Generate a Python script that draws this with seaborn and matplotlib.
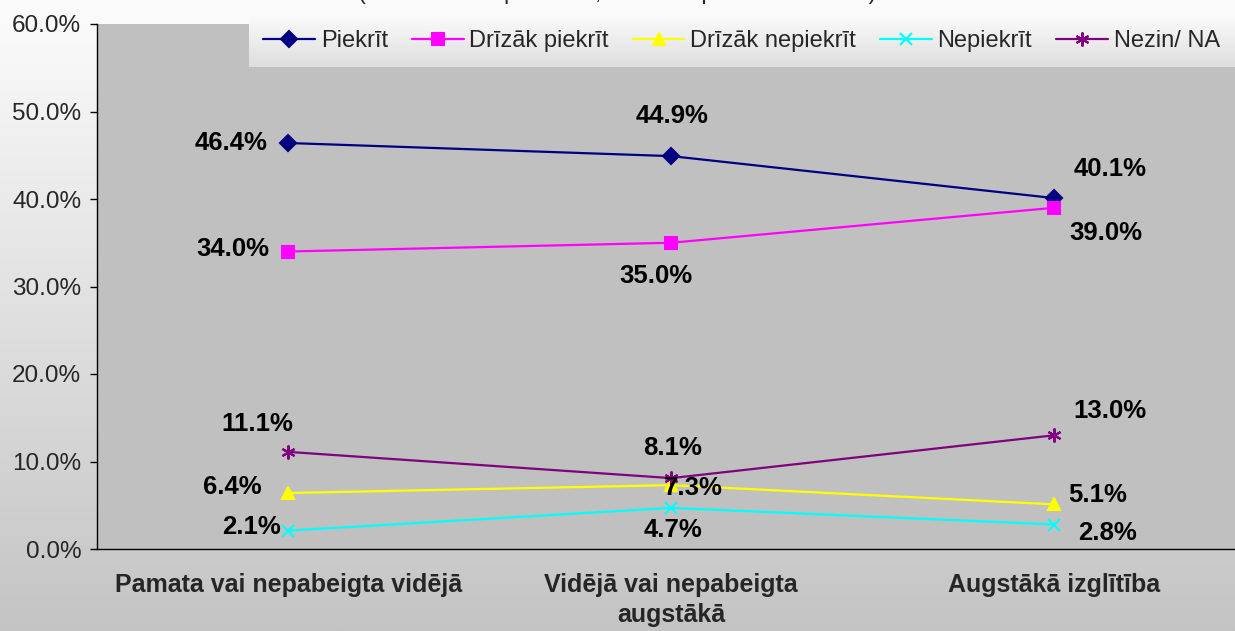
import matplotlib
matplotlib.use("Agg")
import matplotlib.pyplot as plt
import seaborn as sns
import numpy as np

# data
categories = ["Pamata vai nepabeigta vidējā", "Vidējā vai nepabeigta\naugstākā", "Augstākā izglītība"]
series_names = ["Piekrīt", "Drīzāk piekrīt", "Drīzāk nepiekrīt", "Nepiekrīt", "Nezin/ NA"]
piekrit = [46.4, 44.9, 40.1]
drizak_piekrit = [34.0, 35.0, 39.0]
drizak_nepiekrit = [6.4, 7.3, 5.1]
nepiekrit = [2.1, 4.7, 2.8]
nezin = [11.1, 8.1, 13.0]
y_ticks = [0, 10, 20, 30, 40, 50, 60]

values = [piekrit, drizak_piekrit, drizak_nepiekrit, nepiekrit, nezin]
colors = ["#000080", "#FF00FF", "#FFFF00", "#00FFFF", "#800080"]
markers = ["D", "s", "^", "x", (6, 2, 0)]
msizes = [8, 8, 9, 9, 10]

# label offsets in pixels (dx, dy downwards) relative to each point
label_off = [
    [(-57, 0), (1, -40), (56, -29)],
    [(-55, -3), (-15, 33), (51, 25)],
    [(-56, -6), (22, 3), (43, -9)],
    [(-37, -4), (2, 22), (53, 8)],
    [(-31, -28), (1, -30), (56, -24)],
]

sns.set_style("white")
plt.rcParams["font.family"] = ["Liberation Sans", "DejaVu Sans"]

W, H = 1235, 631
fig = plt.figure(figsize=(W / 100, H / 100), dpi=100)

# background gradient for the chart area
bg = fig.add_axes([0, 0, 1, 1], zorder=-10)
grad = np.linspace(252, 196, 256).reshape(-1, 1) / 255
bg.imshow(np.dstack([grad, grad, grad]), aspect="auto", extent=[0, 1, 0, 1])
bg.set_axis_off()

left, right, top, bottom = 96.5, 1246, 24, 549
ax = fig.add_axes([left / W, 1 - bottom / H, (right - left) / W, (bottom - top) / H])
ax.set_facecolor("#C0C0C0")

for name, vals, c, m, ms in zip(series_names, values, colors, markers, msizes):
    sns.lineplot(x=categories, y=vals, ax=ax, color=c, marker=m, markersize=ms,
                 markeredgecolor=c, markerfacecolor=c, markeredgewidth=1.5,
                 linewidth=1.6, label=name, legend=False, sort=False)

for vals, offs in zip(values, label_off):
    for i, (v, (dx, dy)) in enumerate(zip(vals, offs)):
        ax.annotate(f"{v:.1f}%", (i, v), xytext=(dx * 0.72, -dy * 0.72),
                    textcoords="offset points", ha="center", va="center",
                    fontsize=18.5, fontweight="bold", color="black")

ax.set_xlim(-0.5, 2.5)
ax.set_ylim(0, 60)
ax.set_yticks(y_ticks)
ax.set_yticklabels([f"{t:.1f}%" for t in y_ticks], fontsize=17.5)
ax.set_xticks(range(len(categories)))
ax.set_xticklabels(categories, fontsize=18, fontweight="bold", linespacing=1.35)
ax.set_xticks([-0.5, 0.5, 1.5], minor=True)
ax.tick_params(axis="x", which="major", length=0, pad=17)
ax.tick_params(axis="x", which="minor", length=7, width=1, color="black", direction="out")
ax.tick_params(axis="y", length=5, width=1, color="black", direction="out", pad=6, left=True)
ax.set_xlabel("")
ax.set_ylabel("")
for s in ["top", "right"]:
    ax.spines[s].set_visible(False)
for s in ["left", "bottom"]:
    ax.spines[s].set_color("black")
    ax.spines[s].set_linewidth(1)

# legend box with a light vertical gradient
lx0, ly0, lx1, ly1 = 249, 15, 1240, 67
lax = fig.add_axes([lx0 / W, 1 - ly1 / H, (lx1 - lx0) / W, (ly1 - ly0) / H], zorder=2)
lgrad = np.linspace(251, 222, 64).reshape(-1, 1) / 255
lax.imshow(np.dstack([lgrad, lgrad, lgrad]), aspect="auto", extent=[0, 1, 0, 1])
lax.set_axis_off()

handles, labels = ax.get_legend_handles_labels()
lax.legend(handles, labels, loc="center left",
           bbox_to_anchor=((263 - lx0) / (lx1 - lx0), 0.5),
           ncol=5, frameon=False, fontsize=17, handlelength=2.2,
           handletextpad=0.25, columnspacing=1.0, borderaxespad=0, borderpad=0)

# title, mostly cut off by the top edge as in the reference
fig.text(0.5, 1 + 0.5 / H, "(bāzē: visi respondenti, % no respondentu skaita)",
         ha="center", va="baseline", fontsize=17)

fig.savefig("out.png", dpi=100)
